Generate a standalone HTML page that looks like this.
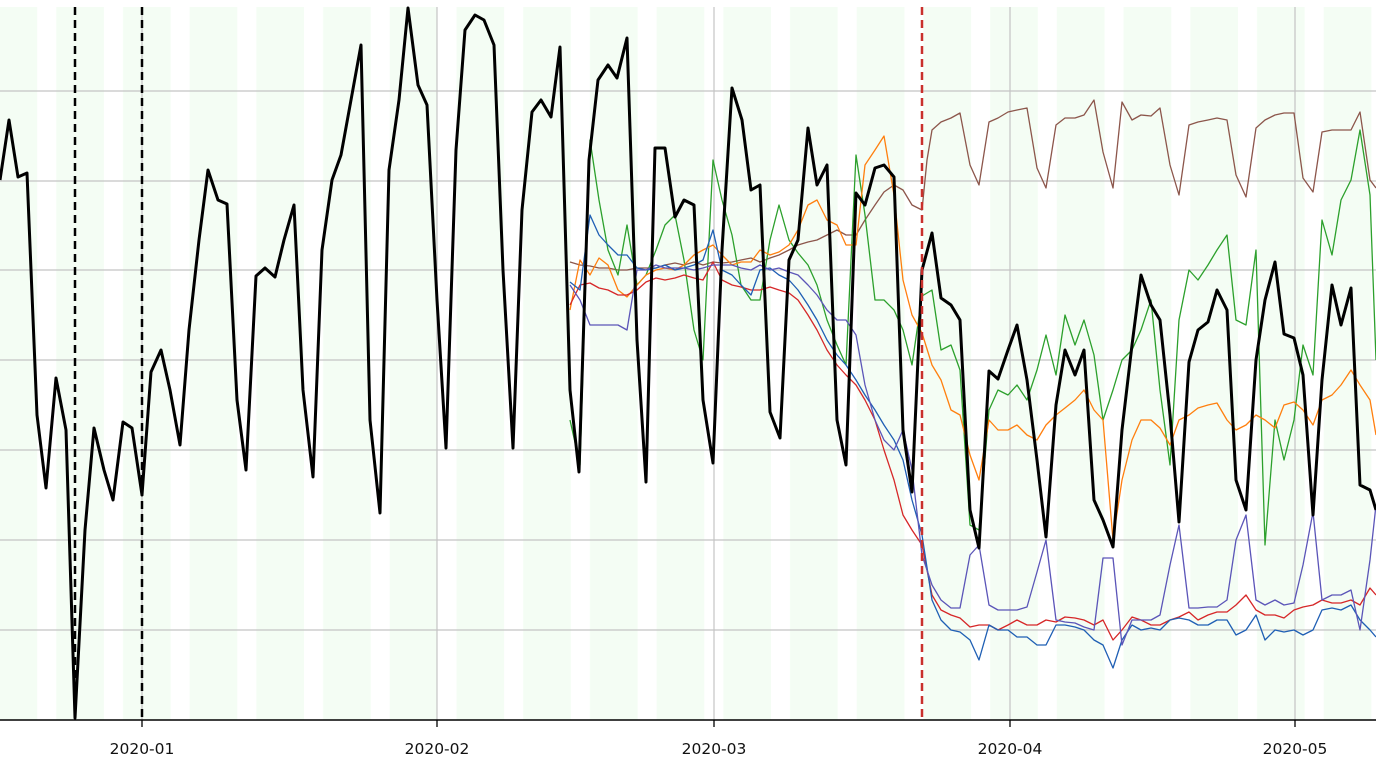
<!DOCTYPE html>
<html><head><meta charset="utf-8"><style>
html,body{margin:0;padding:0;background:#fff;}
svg{display:block;}
text{font-family:"DejaVu Sans","Liberation Sans",sans-serif;font-size:15.5px;fill:#111;}
</style></head><body>
<svg width="1376" height="774" viewBox="0 0 1376 774" xmlns="http://www.w3.org/2000/svg">
<defs>
<pattern id="wk" patternUnits="userSpaceOnUse" x="170.6" y="0" width="66.71" height="774">
<rect x="0" y="0" width="19.06" height="774" fill="#ffffff"/>
<rect x="19.06" y="0" width="47.65" height="774" fill="#f4fdf4"/>
</pattern>
</defs>
<rect x="0" y="7" width="1376" height="713" fill="url(#wk)"/>
<g stroke="#c4c4c4" stroke-width="1.2">
<line x1="0" y1="91" x2="1376" y2="91"/><line x1="0" y1="181" x2="1376" y2="181"/>
<line x1="0" y1="270" x2="1376" y2="270"/><line x1="0" y1="360" x2="1376" y2="360"/>
<line x1="0" y1="450" x2="1376" y2="450"/><line x1="0" y1="540" x2="1376" y2="540"/>
<line x1="0" y1="630" x2="1376" y2="630"/>
<line x1="142" y1="7" x2="142" y2="720"/><line x1="437" y1="7" x2="437" y2="720"/>
<line x1="714" y1="7" x2="714" y2="720"/><line x1="1010" y1="7" x2="1010" y2="720"/>
<line x1="1295" y1="7" x2="1295" y2="720"/>
</g>
<g fill="none" stroke-linejoin="round" stroke-width="1.3">
<polyline stroke="#8c564b" points="570,262 580,265 590,266 599,268 608,268 618,270 627,270 637,268 646,268 656,268 665,265 675,263 684,265 694,262 703,265 713,262 722,263 732,262 741,260 751,258 760,262 770,258 779,255 789,250 798,245 808,242 817,240 827,235 837,230 846,235 856,235 865,220 875,205 884,192 894,185 903,190 912,205 922,210 927,160 932,130 941,122 951,118 960,113 970,165 979,185 989,122 998,118 1008,112 1017,110 1027,108 1037,168 1046,188 1056,125 1065,118 1075,118 1084,115 1094,100 1103,152 1113,188 1122,102 1132,120 1141,115 1151,116 1160,108 1170,165 1179,195 1189,125 1198,122 1208,120 1217,118 1227,120 1236,175 1246,197 1256,128 1265,120 1275,115 1284,113 1294,113 1303,178 1313,192 1322,132 1332,130 1341,130 1351,130 1360,112 1370,180 1376,188"/>
<polyline stroke="#2ca02c" points="570,420 580,465 590,140 599,200 608,250 618,275 627,225 637,285 646,275 656,250 665,225 675,215 684,260 694,330 703,360 713,160 722,200 732,235 741,285 751,300 760,300 770,240 779,205 789,240 798,253 808,265 817,285 827,320 837,345 846,365 856,155 865,215 875,300 884,300 894,310 903,330 912,365 922,296 932,290 941,350 951,345 960,370 970,525 979,530 989,410 998,390 1008,395 1017,385 1027,400 1037,370 1046,335 1056,375 1065,315 1075,345 1084,320 1094,355 1103,420 1113,390 1122,360 1132,350 1141,330 1151,300 1160,390 1170,465 1179,320 1189,270 1198,280 1208,265 1217,250 1227,235 1236,320 1246,325 1256,250 1265,545 1275,420 1284,460 1294,420 1303,345 1313,375 1322,220 1332,255 1341,200 1351,180 1360,130 1370,195 1376,360"/>
<polyline stroke="#ff7f0e" points="570,310 580,260 590,275 599,258 608,265 618,290 627,297 637,285 646,275 656,270 665,268 675,270 684,265 694,255 703,250 713,245 722,255 732,265 741,262 751,262 760,250 770,255 779,252 789,245 798,230 808,205 817,200 827,220 837,225 846,245 856,245 865,165 875,150 884,136 894,195 903,280 912,315 922,333 932,365 941,380 951,410 960,415 970,455 979,480 989,420 998,430 1008,430 1017,425 1027,435 1037,440 1046,425 1056,415 1065,408 1075,400 1084,390 1094,410 1103,420 1113,540 1122,480 1132,440 1141,420 1151,420 1160,428 1170,445 1179,420 1189,415 1198,408 1208,405 1217,403 1227,420 1236,430 1246,425 1256,415 1265,420 1275,428 1284,405 1294,402 1303,410 1313,425 1322,400 1332,395 1341,385 1351,370 1360,385 1370,400 1376,435"/>
<polyline stroke="#d62728" points="570,305 580,285 590,283 599,288 608,290 618,295 627,295 637,290 646,282 656,278 665,280 675,278 684,275 694,278 703,280 713,262 722,280 732,285 741,287 751,290 760,290 770,287 779,290 789,293 798,300 808,315 817,330 827,350 837,365 846,375 856,385 865,400 875,420 884,450 894,480 903,515 912,530 922,545 932,595 941,610 951,615 960,618 970,627 979,625 989,625 998,630 1008,625 1017,620 1027,625 1037,625 1046,620 1056,622 1065,617 1075,618 1084,620 1094,625 1103,620 1113,640 1122,630 1132,617 1141,620 1151,625 1160,625 1170,620 1179,617 1189,612 1198,620 1208,615 1217,612 1227,612 1236,605 1246,595 1256,610 1265,615 1275,615 1284,618 1294,610 1303,607 1313,605 1322,600 1332,603 1341,603 1351,600 1360,605 1370,588 1376,595"/>
<polyline stroke="#1f5fb4" points="570,282 580,290 590,215 599,235 608,245 618,255 627,255 637,268 646,270 656,268 665,265 675,270 684,268 694,265 703,260 713,230 722,270 732,275 741,285 751,295 760,270 770,268 779,275 789,280 798,290 808,305 817,320 827,340 837,355 846,365 856,380 865,395 875,410 884,425 894,440 903,460 912,500 922,535 932,600 941,620 951,630 960,632 970,640 979,660 989,625 998,630 1008,630 1017,637 1027,637 1037,645 1046,645 1056,625 1065,625 1075,627 1084,630 1094,640 1103,645 1113,668 1122,640 1132,625 1141,630 1151,628 1160,630 1170,620 1179,618 1189,620 1198,625 1208,625 1217,620 1227,620 1236,635 1246,630 1256,615 1265,640 1275,630 1284,632 1294,630 1303,635 1313,630 1322,610 1332,608 1341,610 1351,605 1360,620 1370,630 1376,637"/>
<polyline stroke="#5b55b8" points="570,285 580,300 590,325 599,325 608,325 618,325 627,330 637,270 646,270 656,265 665,268 675,268 684,268 694,270 703,268 713,265 722,265 732,265 741,268 751,270 760,265 770,270 779,268 789,272 798,275 808,285 817,295 827,310 837,320 846,320 856,335 865,385 875,420 884,440 894,450 903,430 912,470 922,555 932,585 941,600 951,608 960,608 970,555 979,545 989,605 998,610 1008,610 1017,610 1027,607 1037,572 1046,540 1056,620 1065,622 1075,623 1084,627 1094,630 1103,558 1113,558 1122,645 1132,620 1141,620 1151,620 1160,615 1170,565 1179,525 1189,608 1198,608 1208,607 1217,607 1227,600 1236,540 1246,515 1256,600 1265,605 1275,600 1284,605 1294,603 1303,565 1313,512 1322,600 1332,595 1341,595 1351,590 1360,630 1370,560 1376,505"/>
</g>
<polyline fill="none" stroke="#000" stroke-width="3" stroke-linejoin="round" points="0,180 9,120 18,177 27,173 37,415 46,488 56,378 66,430 75,718 85,530 94,428 104,470 113,500 123,422 132,428 142,495 151,372 161,350 170,390 180,445 189,330 199,240 208,170 218,200 227,204 237,400 246,470 256,276 265,268 275,277 284,240 294,205 303,390 313,477 322,250 332,180 341,155 351,100 361,45 370,420 380,513 389,170 399,100 408,8 418,85 427,105 437,300 446,448 456,150 465,30 475,15 484,20 494,45 503,270 513,448 522,210 532,112 541,100 551,117 560,47 570,390 579,472 589,160 598,80 608,65 617,78 627,38 637,340 646,482 655,148 665,148 675,217 684,200 694,205 703,400 713,463 722,250 732,88 742,120 751,190 760,185 770,412 780,438 789,260 798,240 808,128 817,185 827,165 837,420 846,465 856,193 865,205 875,168 884,165 894,177 903,430 912,492 922,270 932,233 941,298 951,305 960,320 970,510 979,548 989,371 998,379 1008,350 1017,325 1027,380 1037,460 1046,537 1056,405 1065,350 1075,375 1084,350 1094,500 1103,520 1113,547 1122,430 1132,345 1141,275 1151,305 1160,320 1170,415 1179,522 1189,362 1198,330 1208,322 1217,290 1227,310 1236,480 1246,510 1256,360 1265,300 1275,262 1284,334 1294,338 1303,375 1313,515 1322,380 1332,285 1341,325 1351,288 1360,485 1370,490 1376,510"/>
<g stroke-width="2.5" stroke-dasharray="8,5">
<line x1="75" y1="7" x2="75" y2="720" stroke="#000"/>
<line x1="142" y1="7" x2="142" y2="720" stroke="#000"/>
<line x1="922" y1="7" x2="922" y2="720" stroke="#c9302c"/>
</g>
<line x1="0" y1="720" x2="1376" y2="720" stroke="#000" stroke-width="1.5"/>
<g stroke="#000" stroke-width="1.3">
<line x1="142" y1="720" x2="142" y2="727"/><line x1="437" y1="720" x2="437" y2="727"/>
<line x1="714" y1="720" x2="714" y2="727"/><line x1="1010" y1="720" x2="1010" y2="727"/>
<line x1="1295" y1="720" x2="1295" y2="727"/>
</g>
<g text-anchor="middle">
<text x="142" y="754">2020-01</text><text x="437" y="754">2020-02</text>
<text x="714" y="754">2020-03</text><text x="1010" y="754">2020-04</text>
<text x="1295" y="754">2020-05</text>
</g>
</svg>
</body></html>
